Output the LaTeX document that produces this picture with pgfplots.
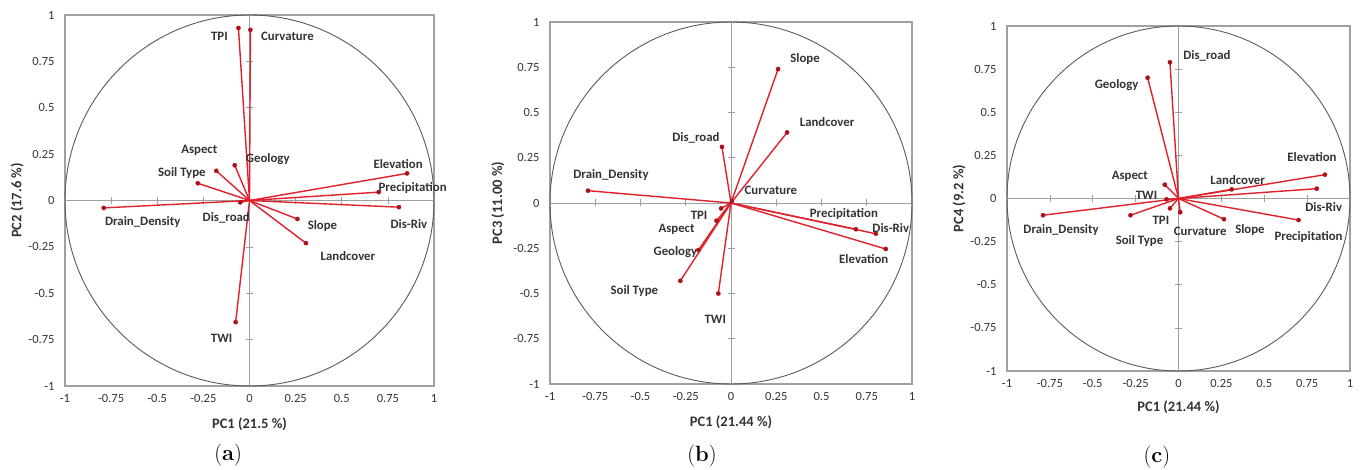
\documentclass[border=0pt]{standalone}
\usepackage{pgfplots}
\pgfplotsset{compat=1.18}
\usepackage{pgfplotstable}
\usepackage{fontspec}
\newfontfamily\carl{Carlito}
\definecolor{vred}{HTML}{E0202A}
\definecolor{vdark}{HTML}{B01018}
\definecolor{lbl}{HTML}{333333}
\definecolor{circ}{HTML}{5A5A5A}
\definecolor{frame}{HTML}{A0A0A0}

\pgfplotstableread{
x y dx dy label
-0.06 0.93 -19 -8 TPI
0.005 0.92 37 -7 Curvature
-0.18 0.16 -17 20 Aspect
-0.08 0.19 33 6 Geology
-0.28 0.093 -16 10 {Soil Type}
-0.79 -0.04 39 -14 Drain\_Density
-0.05 -0.01 -14 -16 Dis\_road
0.854 0.146 -9 9 Elevation
0.70 0.045 34 4 Precipitation
0.81 -0.036 10 -17 Dis-Riv
0.26 -0.10 25 -7 Slope
0.306 -0.23 42 -13 Landcover
-0.075 -0.656 -14 -16 TWI
}\dataA

\pgfplotstableread{
x y dx dy label
0.26 0.74 27 10 Slope
0.31 0.39 40 10 Landcover
-0.05 0.31 -26 9 Dis\_road
-0.79 0.068 23 16 Drain\_Density
0.005 0.01 39 11 Curvature
-0.055 -0.03 -22 -7 TPI
-0.08 -0.098 -40 -9 Aspect
0.69 -0.145 -12 15 Precipitation
0.80 -0.17 15 6 Dis-Riv
0.855 -0.254 -22 -10 Elevation
-0.18 -0.26 -23 -2 Geology
-0.28 -0.43 -46 -10 {Soil Type}
-0.07 -0.50 -3 -26 TWI
}\dataB

\pgfplotstableread{
x y dx dy label
-0.05 0.79 37 6 Dis\_road
-0.18 0.70 -31 -7 Geology
-0.08 0.08 -35 8 Aspect
-0.07 -0.005 -20 4 TWI
-0.05 -0.057 -9 -12 TPI
-0.28 -0.097 9 -26 {Soil Type}
-0.79 -0.097 18 -15 Drain\_Density
0.01 -0.08 20 -19 Curvature
0.265 -0.12 26 -11 Slope
0.70 -0.125 10 -17 Precipitation
0.31 0.053 6 9 Landcover
0.806 0.057 7 -18 Dis-Riv
0.854 0.138 -13 18 Elevation
}\dataC

\pgfplotsset{
  pcabase/.style={scale only axis, anchor=south west,
    xmin=-1, xmax=1, ymin=-1, ymax=1,
    xtick={-1,-0.75,-0.5,-0.25,0,0.25,0.5,0.75,1},
    ytick={-1,-0.75,-0.5,-0.25,0,0.25,0.5,0.75,1}, clip=false},
  centerax/.style={pcabase, axis lines=middle,
    axis line style={-, draw=gray!75, line width=0.6pt},
    xticklabels={}, yticklabels={}, major tick length=7pt,
    tick style={draw=gray!75, line width=0.6pt}},
  mainax/.style={pcabase, axis line style={draw=frame, line width=1.1pt},
    major tick length=0pt,
    ticklabel style={font=\carl\fontsize{12.5}{14}\selectfont, text=lbl},
    /pgf/number format/assume math mode=true,
    xticklabel shift=5pt, yticklabel shift=7pt,
    label style={font=\carl\bfseries\fontsize{14.5}{17}\selectfont, text=lbl}},
  vec/.style={draw=vred, line width=1.4pt, -, quiver={u=\thisrow{x}, v=\thisrow{y}}},
  pts/.style={only marks, mark=*, mark size=2.1pt,
    mark options={fill=vdark, draw=vdark},
    nodes near coords, point meta=explicit symbolic,
    visualization depends on={\thisrow{dx}\as\dx},
    visualization depends on={\thisrow{dy}\as\dy},
    nodes near coords style={anchor=center, xshift=\dx*1pt, yshift=\dy*1pt,
      font=\carl\bfseries\fontsize{12.8}{15}\selectfont, text=lbl, inner sep=0pt}},
}

\begin{document}
\begin{tikzpicture}
\path[use as bounding box] (0pt,0pt) rectangle (1360pt,470pt);

% ---------- (a)
\begin{axis}[centerax, width=369pt, height=371pt, at={(65pt,84pt)}]
\end{axis}
\begin{axis}[mainax, width=369pt, height=371pt, at={(65pt,84pt)},
  xlabel={PC1 (21.5 \%)}, ylabel={PC2 (17.6 \%)},
  xlabel style={at={(axis description cs:0.5,-0.102)}, anchor=center},
  ylabel style={at={(axis description cs:-0.13,0.5)}, anchor=center}]
\draw[circ, line width=0.9pt] (axis cs:0,0) ellipse [x radius=1, y radius=1];
\addplot[vec] table[x expr=0, y expr=0] {\dataA};
\addplot[pts] table[x=x, y=y, meta=label] {\dataA};
\node[font=\fontsize{22}{26}\selectfont] at (axis description cs:0.442,-0.186) {(\textbf{a})};
\end{axis}

% ---------- (b)
\begin{axis}[centerax, width=362pt, height=362pt, at={(550pt,86pt)}]
\end{axis}
\begin{axis}[mainax, width=362pt, height=362pt, at={(550pt,86pt)},
  xlabel={PC1 (21.44 \%)}, ylabel={PC3 (11.00 \%)},
  xlabel style={at={(axis description cs:0.5,-0.105)}, anchor=center},
  ylabel style={at={(axis description cs:-0.144,0.5)}, anchor=center}]
\draw[circ, line width=0.9pt] (axis cs:0,0) ellipse [x radius=1, y radius=1];
\addplot[vec] table[x expr=0, y expr=0] {\dataB};
\addplot[pts] table[x=x, y=y, meta=label] {\dataB};
\node[font=\fontsize{22}{26}\selectfont] at (axis description cs:0.42,-0.20) {(\textbf{b})};
\end{axis}

% ---------- (c)
\begin{axis}[centerax, width=343pt, height=345pt, at={(1007pt,99pt)}]
\end{axis}
\begin{axis}[mainax, width=343pt, height=345pt, at={(1007pt,99pt)},
  xlabel={PC1 (21.44 \%)}, ylabel={PC4 (9.2 \%)},
  xlabel style={at={(axis description cs:0.5,-0.104)}, anchor=center},
  ylabel style={at={(axis description cs:-0.14,0.5)}, anchor=center}]
\draw[circ, line width=0.9pt] (axis cs:0,0) ellipse [x radius=1, y radius=1];
\addplot[vec] table[x expr=0, y expr=0] {\dataC};
\addplot[pts] table[x=x, y=y, meta=label] {\dataC};
\node[font=\fontsize{22}{26}\selectfont] at (axis description cs:0.437,-0.249) {(\textbf{c})};
\end{axis}
\end{tikzpicture}
\end{document}
